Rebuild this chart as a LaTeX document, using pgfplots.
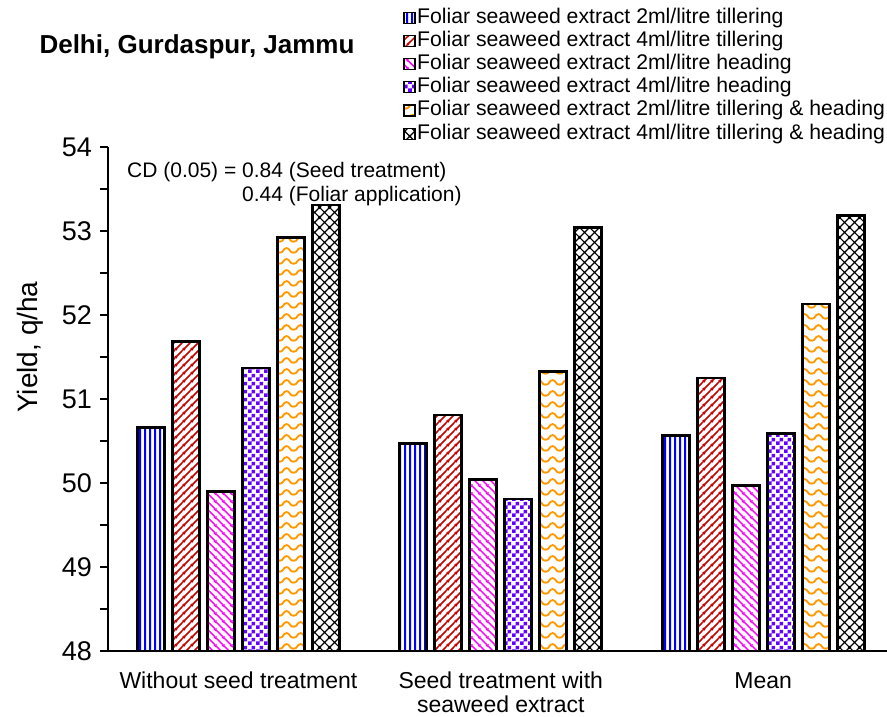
\documentclass[border=0pt]{standalone}
\usepackage{fontspec}
\setmainfont{Liberation Sans}
\usepackage{pgfplots}
\pgfplotsset{compat=1.18}
\usetikzlibrary{patterns}

% fill patterns for the six treatments
\pgfdeclarepatternformonly{vstripes}{\pgfpointorigin}{\pgfqpoint{4.6pt}{4pt}}{\pgfqpoint{4.6pt}{4pt}}{%
  \pgfsetlinewidth{2pt}%
  \pgfpathmoveto{\pgfqpoint{2.3pt}{-1pt}}\pgfpathlineto{\pgfqpoint{2.3pt}{5pt}}%
  \pgfusepath{stroke}}
\pgfdeclarepatternformonly{updiag}{\pgfpointorigin}{\pgfqpoint{8pt}{8pt}}{\pgfqpoint{8pt}{8pt}}{%
  \pgfsetlinewidth{1.6pt}%
  \pgfpathmoveto{\pgfqpoint{-1pt}{-1pt}}\pgfpathlineto{\pgfqpoint{9pt}{9pt}}%
  \pgfpathmoveto{\pgfqpoint{-1pt}{7pt}}\pgfpathlineto{\pgfqpoint{1pt}{9pt}}%
  \pgfpathmoveto{\pgfqpoint{7pt}{-1pt}}\pgfpathlineto{\pgfqpoint{9pt}{1pt}}%
  \pgfusepath{stroke}}
\pgfdeclarepatternformonly{downdiag}{\pgfpointorigin}{\pgfqpoint{8pt}{8pt}}{\pgfqpoint{8pt}{8pt}}{%
  \pgfsetlinewidth{1.6pt}%
  \pgfpathmoveto{\pgfqpoint{-1pt}{9pt}}\pgfpathlineto{\pgfqpoint{9pt}{-1pt}}%
  \pgfpathmoveto{\pgfqpoint{-1pt}{1pt}}\pgfpathlineto{\pgfqpoint{1pt}{-1pt}}%
  \pgfpathmoveto{\pgfqpoint{7pt}{9pt}}\pgfpathlineto{\pgfqpoint{9pt}{7pt}}%
  \pgfusepath{stroke}}
\pgfdeclarepatternformonly{checker}{\pgfpointorigin}{\pgfqpoint{8pt}{8pt}}{\pgfqpoint{8pt}{8pt}}{%
  \pgfpathrectangle{\pgfpointorigin}{\pgfqpoint{4pt}{4pt}}%
  \pgfpathrectangle{\pgfqpoint{4pt}{4pt}}{\pgfqpoint{4pt}{4pt}}%
  \pgfusepath{fill}}
\pgfdeclarepatternformonly{waves}{\pgfpointorigin}{\pgfqpoint{14pt}{11pt}}{\pgfqpoint{14pt}{11pt}}{%
  \pgfsetlinewidth{2pt}%
  \pgfpathmoveto{\pgfqpoint{-7pt}{7.5pt}}%
  \pgfpathcurveto{\pgfqpoint{-3.5pt}{7.5pt}}{\pgfqpoint{-3.5pt}{2.5pt}}{\pgfqpoint{0pt}{2.5pt}}%
  \pgfpathcurveto{\pgfqpoint{3.5pt}{2.5pt}}{\pgfqpoint{3.5pt}{7.5pt}}{\pgfqpoint{7pt}{7.5pt}}%
  \pgfpathcurveto{\pgfqpoint{10.5pt}{7.5pt}}{\pgfqpoint{10.5pt}{2.5pt}}{\pgfqpoint{14pt}{2.5pt}}%
  \pgfpathcurveto{\pgfqpoint{17.5pt}{2.5pt}}{\pgfqpoint{17.5pt}{7.5pt}}{\pgfqpoint{21pt}{7.5pt}}%
  \pgfusepath{stroke}}
\pgfdeclarepatternformonly{diamonds}{\pgfpointorigin}{\pgfqpoint{10pt}{10pt}}{\pgfqpoint{10pt}{10pt}}{%
  \pgfsetlinewidth{1.2pt}%
  \pgfpathmoveto{\pgfqpoint{-1pt}{-1pt}}\pgfpathlineto{\pgfqpoint{11pt}{11pt}}%
  \pgfpathmoveto{\pgfqpoint{-1pt}{11pt}}\pgfpathlineto{\pgfqpoint{11pt}{-1pt}}%
  \pgfpathmoveto{\pgfqpoint{-1pt}{9pt}}\pgfpathlineto{\pgfqpoint{1pt}{11pt}}%
  \pgfpathmoveto{\pgfqpoint{9pt}{-1pt}}\pgfpathlineto{\pgfqpoint{11pt}{1pt}}%
  \pgfpathmoveto{\pgfqpoint{-1pt}{1pt}}\pgfpathlineto{\pgfqpoint{1pt}{-1pt}}%
  \pgfpathmoveto{\pgfqpoint{9pt}{11pt}}\pgfpathlineto{\pgfqpoint{11pt}{9pt}}%
  \pgfusepath{stroke}}

\definecolor{cblue}{RGB}{0,0,255}
\definecolor{cred}{RGB}{200,0,0}
\definecolor{cmag}{RGB}{255,0,255}
\definecolor{cpurp}{RGB}{102,0,255}
\definecolor{corange}{RGB}{255,153,0}

\begin{document}
\begin{tikzpicture}
\useasboundingbox (0,0) rectangle (887pt,716pt);
\node[font=\bfseries\fontsize{26}{30}\selectfont, anchor=west] at (36pt,669pt) {Delhi, Gurdaspur, Jammu};
\begin{axis}[
  at={(108pt,65pt)}, anchor=south west,
  scale only axis, width=779pt, height=504pt,
  ybar=8pt, bar width=27pt,
  xmin=-0.497, xmax=2.472, ymin=48, ymax=54,
  axis x line=bottom, axis y line=left,
  axis line style={-, line width=1.3pt, black},
  xtick={0,1,2},
  xticklabels={Without seed treatment, {Seed treatment with\\seaweed extract}, Mean},
  x tick style={draw=none},
  xticklabel style={font=\fontsize{23}{23.5}\selectfont, align=center, anchor=north, inner sep=0pt, yshift=-13pt},
  ytick={48,49,...,54},
  minor y tick num=1,
  tick align=outside,
  major tick length=8pt, minor tick length=8pt,
  y tick style={line width=1.3pt, black},
  yticklabel style={font=\fontsize{27}{27}\selectfont, anchor=east, inner sep=0pt, xshift=-8pt},
  /pgf/number format/assume math mode=true,
  ylabel={Yield, q/ha},
  ylabel style={font=\fontsize{28}{30}\selectfont, at={(axis description cs:-0.100,0.603)}, anchor=center},
  legend image code/.code={\draw[#1, line width=1.2pt] (0pt,-5.5pt) rectangle (11pt,5.5pt);},
  legend style={draw=none, fill=none, at={(axis description cs:0.379,1.280)}, anchor=north west,
    font=\fontsize{21.2}{23}\selectfont, row sep=0pt, inner sep=0pt,
    nodes={inner sep=1.5pt, text height=15.5pt, text depth=4.7pt}},
  legend cell align=left,
]
\addplot[draw=black, line width=2.8pt, pattern=vstripes, pattern color=cblue]
  coordinates {(0,50.66) (1,50.47) (2,50.57)};
\addplot[draw=black, line width=2.8pt, pattern=updiag, pattern color=cred]
  coordinates {(0,51.68) (1,50.81) (2,51.25)};
\addplot[draw=black, line width=2.8pt, pattern=downdiag, pattern color=cmag]
  coordinates {(0,49.90) (1,50.04) (2,49.97)};
\addplot[draw=black, line width=2.8pt, pattern=checker, pattern color=cpurp]
  coordinates {(0,51.37) (1,49.81) (2,50.59)};
\addplot[draw=black, line width=2.8pt, pattern=waves, pattern color=corange]
  coordinates {(0,52.92) (1,51.33) (2,52.13)};
\addplot[draw=black, line width=2.8pt, pattern=diamonds, pattern color=black]
  coordinates {(0,53.31) (1,53.04) (2,53.18)};
\legend{Foliar seaweed extract 2ml/litre tillering,
  Foliar seaweed extract 4ml/litre tillering,
  Foliar seaweed extract 2ml/litre heading,
  Foliar seaweed extract 4ml/litre heading,
  Foliar seaweed extract 2ml/litre tillering \& heading,
  Foliar seaweed extract 4ml/litre tillering \& heading}
\node[font=\fontsize{21}{24}\selectfont, anchor=north west, align=left, inner sep=0pt]
  at (axis description cs:0.0244,0.970)
  {CD (0.05) = 0.84 (Seed treatment)\\\phantom{CD (0.05) = }0.44 (Foliar application)};
\end{axis}
\end{tikzpicture}
\end{document}
